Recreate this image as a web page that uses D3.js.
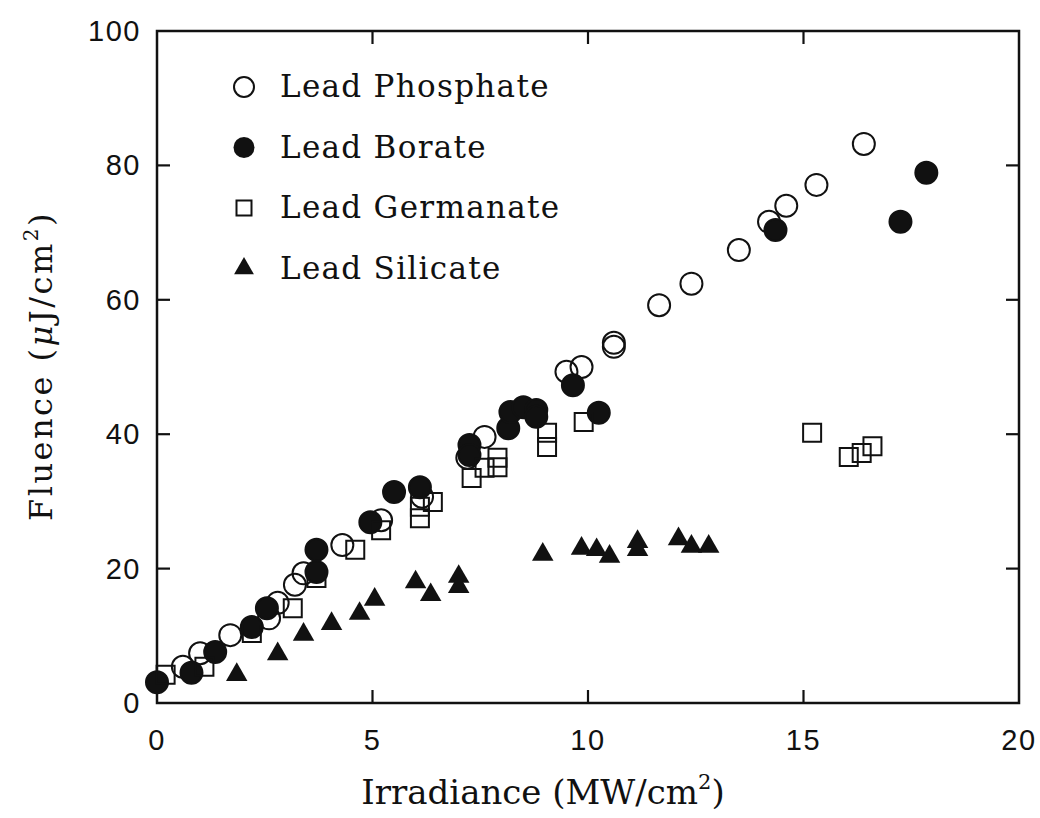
<!DOCTYPE html>
<html>
<head>
<meta charset="utf-8">
<script src="https://cdn.jsdelivr.net/npm/d3@7"></script>
<style>
  body { margin: 0; background: #fff; }
  text { fill: #111; }
</style>
</head>
<body>
<div id="holder"></div>
<script>
const w = 1040;
const h = 818;
const padLeft = 157, padRight = 1019, padTop = 31, padBottom = 703;

// DATA (irradiance MW/cm2, fluence uJ/cm2)
const phosphateX = [0.6, 1.0, 1.7, 2.6, 2.8, 3.2, 3.4, 4.3, 5.2, 6.15, 7.2, 7.6, 9.5, 9.85, 10.6, 10.6, 11.65, 12.4, 13.5, 14.2, 14.6, 15.3, 16.4];
const phosphateY = [5.4, 7.4, 10.1, 12.6, 14.9, 17.6, 19.3, 23.5, 27.2, 30.7, 36.5, 39.6, 49.3, 50.0, 53.6, 53.0, 59.2, 62.4, 67.4, 71.6, 74.0, 77.1, 83.2];

const borateX = [0.0, 0.8, 1.35, 2.2, 2.55, 3.7, 3.7, 4.95, 5.5, 6.1, 7.25, 7.25, 8.15, 8.2, 8.5, 8.8, 8.8, 9.65, 10.25, 14.35, 17.25, 17.85];
const borateY = [3.1, 4.5, 7.6, 11.3, 14.1, 19.5, 22.8, 26.9, 31.4, 32.1, 38.4, 36.9, 40.9, 43.3, 44.0, 43.6, 42.6, 47.3, 43.2, 70.4, 71.6, 78.9];

const germanateX = [0.2, 1.1, 2.2, 3.15, 3.7, 4.6, 5.2, 6.1, 6.1, 6.4, 7.3, 7.6, 7.9, 7.9, 9.05, 9.05, 9.9, 15.2, 16.05, 16.35, 16.6];
const germanateY = [4.2, 5.4, 10.4, 14.1, 18.6, 22.8, 25.7, 27.5, 29.2, 29.9, 33.5, 35.0, 35.1, 36.5, 38.1, 40.2, 41.8, 40.2, 36.6, 37.2, 38.2];

const silicateX = [1.85, 2.8, 3.4, 4.05, 4.7, 5.05, 6.0, 6.35, 7.0, 7.0, 8.95, 9.85, 10.2, 10.5, 11.15, 11.15, 12.1, 12.4, 12.8];
const silicateY = [4.2, 7.3, 10.2, 11.8, 13.3, 15.4, 18.0, 16.1, 18.8, 17.3, 22.1, 23.0, 22.8, 21.8, 24.0, 22.8, 24.4, 23.3, 23.3];

const xTicks = [0, 5, 10, 15, 20];
const yTicks = [0, 20, 40, 60, 80, 100];
const legendNames = ["Lead Phosphate", "Lead Borate", "Lead Germanate", "Lead Silicate"];

// CREATE SVG
const svg = d3.select("#holder")
    .append("svg")
    .attr("width", w)
    .attr("height", h)
    .style("background", "#fff")

const x = d3.scaleLinear().domain([0, 20]).range([padLeft, padRight]);
const y = d3.scaleLinear().domain([0, 100]).range([padBottom, padTop]);

const ink = "#111";
const tickFont = "'Liberation Sans', Arial, sans-serif";
const serif = "'DejaVu Serif', serif";

// frame
svg.append("rect")
    .attr("x", padLeft).attr("y", padTop)
    .attr("width", padRight - padLeft).attr("height", padBottom - padTop)
    .attr("fill", "none").attr("stroke", ink).attr("stroke-width", 2.5)

// inward ticks on all four sides
const tl = 13;
const inner = svg.append("g").attr("stroke", ink).attr("stroke-width", 2.2)
xTicks.slice(1, -1).forEach(function (t) {
    inner.append("line").attr("x1", x(t)).attr("x2", x(t)).attr("y1", padBottom).attr("y2", padBottom - tl)
    inner.append("line").attr("x1", x(t)).attr("x2", x(t)).attr("y1", padTop).attr("y2", padTop + tl)
})
yTicks.slice(1, -1).forEach(function (t) {
    inner.append("line").attr("y1", y(t)).attr("y2", y(t)).attr("x1", padLeft).attr("x2", padLeft + tl)
    inner.append("line").attr("y1", y(t)).attr("y2", y(t)).attr("x1", padRight).attr("x2", padRight - tl)
})

// tick labels
svg.append("g").selectAll("text")
    .data(xTicks).enter().append("text")
    .attr("x", d => x(d)).attr("y", 750)
    .attr("text-anchor", "middle")
    .style("font-family", tickFont).style("font-size", "29px").style("letter-spacing", "1.5px")
    .text(d => d)

svg.append("g").selectAll("text")
    .data(yTicks).enter().append("text")
    .attr("x", 141).attr("y", d => y(d) + 10)
    .attr("text-anchor", "end")
    .style("font-family", tickFont).style("font-size", "29px").style("letter-spacing", "1.5px")
    .text(d => d)

// axis titles
const xt = svg.append("text")
    .attr("x", 543).attr("y", 804)
    .attr("text-anchor", "middle")
    .style("font-family", serif).style("font-size", "34px")
xt.append("tspan").text("Irradiance (MW/cm")
xt.append("tspan").attr("dy", -15).style("font-size", "21px").text("2")
xt.append("tspan").attr("dy", 15).text(")")

const yt = svg.append("text")
    .attr("transform", "translate(52,366) rotate(-90)")
    .attr("text-anchor", "middle")
    .style("font-family", serif).style("font-size", "32px").style("letter-spacing", "2.5px")
yt.append("tspan").text("Fluence (")
yt.append("tspan").style("font-style", "italic").text("μ")
yt.append("tspan").text("J/cm")
yt.append("tspan").attr("dy", -14).style("font-size", "20px").text("2")
yt.append("tspan").attr("dy", 14).text(")")

// markers
const sq = d3.symbol().type(d3.symbolSquare).size(18 * 18);
const tri = d3.symbol().type(d3.symbolTriangle).size(200);

function circles(xs, ys, filled) {
    svg.append("g").selectAll("circle")
        .data(xs).enter().append("circle")
        .attr("cx", d => x(d)).attr("cy", (d, i) => y(ys[i]))
        .attr("r", 11)
        .attr("fill", filled ? ink : "none")
        .attr("stroke", ink).attr("stroke-width", 2)
}

circles(phosphateX, phosphateY, false)
circles(borateX, borateY, true)

svg.append("g").selectAll("path")
    .data(germanateX).enter().append("path")
    .attr("d", sq)
    .attr("transform", (d, i) => "translate(" + x(d) + "," + y(germanateY[i]) + ")")
    .attr("fill", "none").attr("stroke", ink).attr("stroke-width", 2)

svg.append("g").selectAll("path")
    .data(silicateX).enter().append("path")
    .attr("d", tri)
    .attr("transform", (d, i) => "translate(" + x(d) + "," + y(silicateY[i]) + ")")
    .attr("fill", ink)

// LEGEND
const legSq = d3.symbol().type(d3.symbolSquare).size(15 * 15);
const legTri = d3.symbol().type(d3.symbolTriangle).size(170);
const legend = svg.append("g")
legendNames.forEach(function (name, i) {
    const cy = 87 + i * 60.5;
    const g = legend.append("g").attr("transform", "translate(244," + cy + ")")
    if (i === 0) g.append("circle").attr("r", 10).attr("fill", "none").attr("stroke", ink).attr("stroke-width", 2)
    if (i === 1) g.append("circle").attr("r", 10.5).attr("fill", ink)
    if (i === 2) g.append("path").attr("d", legSq).attr("fill", "none").attr("stroke", ink).attr("stroke-width", 2)
    if (i === 3) g.append("path").attr("d", legTri).attr("fill", ink)
    legend.append("text")
        .attr("x", 280).attr("y", cy + 10)
        .style("font-family", serif).style("font-size", "31px").style("letter-spacing", "1.3px")
        .text(name)
})
</script>
</body>
</html>
